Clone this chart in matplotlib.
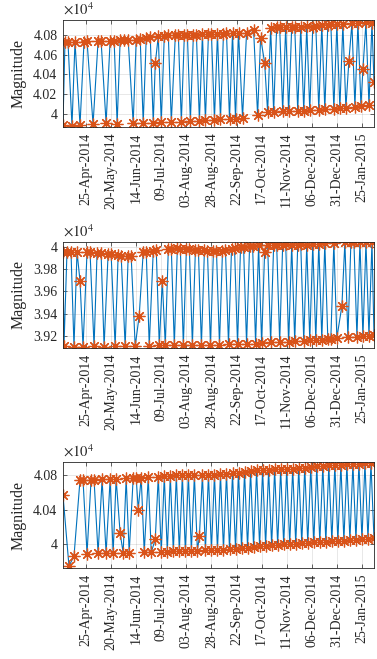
import numpy as np
import matplotlib
matplotlib.use("Agg")
import matplotlib.pyplot as plt
from matplotlib.ticker import FuncFormatter

plt.rcParams['font.family'] = ['Liberation Serif', 'DejaVu Serif']
plt.rcParams['mathtext.fontset'] = 'stix'

start = np.datetime64('2014-04-02')
n_days = 310

tick_dates = ['2014-04-25', '2014-05-20', '2014-06-14', '2014-07-09', '2014-08-03',
              '2014-08-28', '2014-09-22', '2014-10-17', '2014-11-11', '2014-12-06',
              '2014-12-31', '2015-01-25']
tick_labels = ['25-Apr-2014', '20-May-2014', '14-Jun-2014', '09-Jul-2014', '03-Aug-2014',
               '28-Aug-2014', '22-Sep-2014', '17-Oct-2014', '11-Nov-2014', '06-Dec-2014',
               '31-Dec-2014', '25-Jan-2015']

# series 1 (day offset from start, magnitude)
days1 = [0, 2, 5, 9, 12, 17, 21, 24, 30, 35, 38, 43, 47, 51, 54, 57, 61, 65, 70, 73,
         77, 80, 83, 87, 90, 92, 95, 98, 101, 105, 108, 112, 115, 118, 121, 124, 127, 130,
         133, 136, 139, 142, 145, 148, 151, 154, 157, 160, 163, 166, 169, 172, 175, 179,
         183, 190, 194, 197, 201, 204, 207, 210, 213, 216, 219, 222, 225, 228, 231, 234,
         237, 240, 243, 246, 249, 252, 255, 258, 261, 264, 267, 270, 273, 276, 279, 282,
         285, 288, 291, 294, 297, 299, 302, 305, 308, 310]
mag1 = [39885, 40725, 40730, 39878, 40728, 39885, 40730, 40732, 39895, 40735, 40738, 39905,
        40738, 40740, 39900, 40742, 40745, 40748, 39905, 40750, 40752, 39908, 40770, 40775,
        39910, 40510, 40785, 39912, 40790, 40795, 39918, 40795, 40798, 39920, 40800, 40800,
        39925, 40800, 40802, 39930, 40805, 39935, 40805, 40808, 39940, 40810, 39942, 40812,
        40815, 39945, 40818, 39950, 40820, 39960, 40820, 40850, 39985, 40770, 40517, 40015,
        40870, 40020, 40875, 40875, 40025, 40878, 40028, 40880, 40880, 40030, 40882, 40032,
        40885, 40035, 40880, 40890, 40040, 40900, 40045, 40900, 40905, 40050, 40905, 40055,
        40910, 40060, 40537, 40915, 40070, 40920, 40080, 40456, 40925, 40085, 40920, 40320]

# series 2
days2 = [0, 1, 4, 8, 11, 14, 17, 20, 24, 27, 31, 34, 38, 41, 45, 48, 52, 55, 58, 62,
         65, 68, 72, 76, 80, 83, 86, 90, 93, 96, 99, 102, 105, 108, 111, 114, 117, 120,
         123, 126, 129, 132, 135, 138, 141, 144, 147, 150, 153, 156, 159, 162, 165, 168,
         171, 174, 177, 180, 183, 186, 189, 192, 195, 198, 201, 204, 207, 210, 213, 216,
         219, 222, 225, 228, 231, 234, 237, 240, 243, 246, 249, 252, 255, 258, 261, 264,
         267, 270, 273, 278, 281, 284, 287, 290, 293, 296, 299, 302, 305, 308, 310]
mag2 = [39955, 39110, 39950, 39955, 39108, 39952, 39695, 39105, 39950, 39948, 39110, 39945,
        39940, 39108, 39935, 39930, 39112, 39925, 39920, 39110, 39915, 39912, 39112, 39384,
        39950, 39955, 39115, 39960, 39965, 39118, 39694, 39120, 39975, 39980, 39118, 39985,
        39982, 39120, 39980, 39975, 39122, 39970, 39968, 39120, 39965, 39962, 39125, 39960,
        39960, 39125, 39958, 39965, 39128, 39975, 39985, 39130, 39995, 40000, 39132, 40005,
        40008, 39135, 40010, 39140, 39955, 40012, 39145, 40015, 40018, 39148, 40015, 40020,
        39150, 40018, 39155, 40015, 40020, 39160, 40018, 39165, 40020, 39168, 40025, 39170,
        40030, 39175, 39180, 40035, 39185, 39470, 40040, 39190, 40040, 40038, 39195, 40040,
        39200, 40040, 39205, 40040, 39210]

# series 3
days3 = [0, 6, 11, 17, 20, 24, 28, 31, 35, 39, 43, 47, 50, 53, 57, 60, 63, 66, 70, 73,
         75, 78, 81, 85, 88, 92, 95, 98, 101, 104, 107, 110, 113, 116, 119, 122, 125, 128,
         131, 134, 136, 139, 142, 145, 148, 151, 154, 157, 160, 163, 166, 169, 172, 175,
         178, 181, 184, 187, 190, 193, 196, 199, 202, 205, 208, 211, 214, 217, 220, 223,
         226, 229, 232, 235, 238, 241, 244, 247, 250, 253, 256, 259, 262, 265, 268, 271,
         274, 277, 280, 283, 286, 289, 292, 295, 298, 301, 304, 307, 310]
mag3 = [40568, 39745, 39860, 40742, 40740, 39890, 40742, 40745, 39892, 40748, 39895, 40750,
        39893, 40752, 40124, 39900, 40760, 39898, 40765, 40768, 40400, 40770, 39905, 40772,
        39905, 40054, 40780, 39910, 40785, 39912, 40790, 39915, 40795, 39918, 40798, 39920,
        40800, 39922, 40800, 39925, 40093, 40800, 39928, 40802, 39930, 40805, 39932, 40810,
        39935, 40815, 39940, 40820, 39945, 40825, 39950, 40835, 39960, 40845, 39968, 40855,
        39975, 40860, 39980, 40862, 39985, 40865, 39990, 40868, 39995, 40870, 40000, 40875,
        40005, 40880, 40010, 40885, 40015, 40890, 40020, 40900, 40022, 40905, 40025, 40910,
        40030, 40915, 40035, 40920, 40040, 40925, 40045, 40930, 40050, 40930, 40055, 40935,
        40060, 40935, 40065]

series = [(days1, mag1), (days2, mag2), (days3, mag3)]
ylims = [(39864, 40945), (39096, 40042), (39722, 40951)]
yticks = [[40000, 40200, 40400, 40600, 40800],
          [39200, 39400, 39600, 39800, 40000],
          [40000, 40400, 40800]]
# axes rectangles in figure fractions
rects = [[0.167, 0.807, 0.825, 0.162],
         [0.167, 0.472, 0.825, 0.161],
         [0.167, 0.138, 0.825, 0.161]]

blue = '#0072BD'
orange = '#D95319'
dark = '#262626'

fig = plt.figure(figsize=(3.77, 6.59), dpi=100)

for (d, m), yl, yt, r in zip(series, ylims, yticks, rects):
    ax = fig.add_axes(r)
    t = start + np.array(d).astype('timedelta64[D]')
    ax.plot(t, m, '-', color=blue, lw=0.8)
    ax.plot(t, m, linestyle='none', marker=(8, 2, 0), ms=8.5, mec=orange, mew=0.9)
    ax.set_xlim(start, start + np.timedelta64(n_days, 'D'))
    ax.set_ylim(*yl)
    ax.set_yticks(yt)
    ax.yaxis.set_major_formatter(FuncFormatter(lambda v, p: f'{v / 1e4:g}'))
    ax.set_xticks(np.array(tick_dates, dtype='datetime64[D]'))
    ax.set_xticklabels(tick_labels, rotation=90)
    ax.tick_params(direction='in', top=True, right=True, length=3, width=0.5,
                   colors=dark, labelsize=10, pad=4)
    for s in ax.spines.values():
        s.set_linewidth(0.6)
        s.set_color(dark)
    ax.grid(True, color=dark, alpha=0.15, lw=0.5)
    ax.set_axisbelow(True)
    ax.set_ylabel('Magnitude', fontsize=11.5, color=dark, labelpad=5)
    ax.text(0.0, 1.025, r'$\times10^{4}$', transform=ax.transAxes,
            ha='left', va='bottom', fontsize=10.5, color=dark)

fig.savefig('out.png', dpi=100)
